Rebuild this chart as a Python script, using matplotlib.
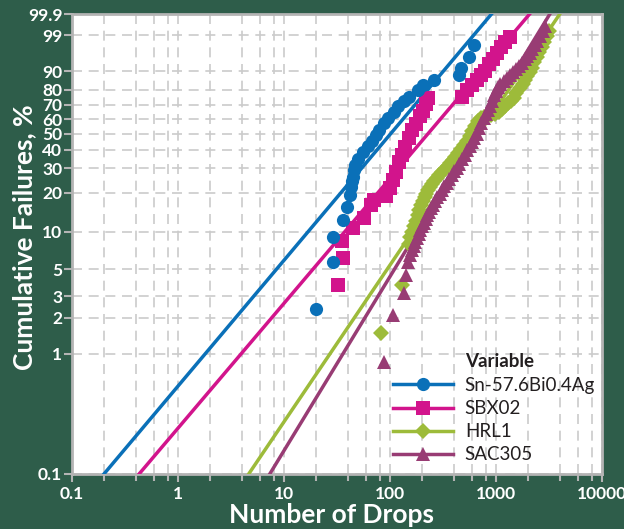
import matplotlib.pyplot as plt
import numpy as np
from matplotlib.lines import Line2D
from matplotlib.ticker import LogLocator, NullFormatter, NullLocator, FixedLocator

plt.rcParams['font.family'] = ['Lato', 'DejaVu Sans']

# --- data: (drops, cumulative failure %) ---
sn_x = [20, 29, 29, 36, 39, 42, 43, 44, 45, 46, 47, 50, 56, 62, 68, 73, 79, 88,
        96, 108, 118, 135, 152, 185, 206, 262, 452, 472, 562, 627]
sn_y = [2.35, 5.7, 9.0, 12.3, 15.5, 19.1, 22.0, 24.5, 26.0, 29.1, 31.5, 34.5,
        38.5, 42.0, 45.5, 49.0, 52.4, 57.2, 60.7, 65.0, 69.0, 72.5, 75.4, 80.0,
        82.9, 85.7, 88.2, 91.3, 95.1, 97.8]

sbx_x = [32, 36, 35, 45, 57, 66, 71, 92, 100, 107, 114, 122, 130, 139, 152, 162,
         177, 193, 206, 220, 230, 483, 538, 600, 655, 715, 780, 851, 929, 1014,
         1107, 1206, 1345]
sbx_y = [3.7, 6.1, 8.4, 10.7, 12.8, 16.1, 17.6, 18.8, 21.6, 24.7, 28.2, 33.1,
         36.8, 41.5, 47.1, 52.4, 56.5, 62.1, 65.7, 70.6, 74.7, 75.4, 79.9, 82.9,
         85.7, 88.2, 90.1, 92.9, 94.5, 96.2, 97.4, 98.2, 98.8]

hrl_x = [83, 130, 150, 156, 162, 168, 175, 182, 189, 196, 204, 212, 221, 230,
         240, 250, 262, 276, 292, 310, 330, 350, 370, 392, 415, 440, 470, 500,
         530, 565, 600, 640, 680, 720, 770, 830, 900, 980, 1060, 1140, 1220,
         1300, 1380, 1468, 1560, 1672, 1780, 1880, 1980, 2080, 2173, 2300, 2421,
         2550, 2700, 2823, 3000, 3148]
hrl_y = [1.5, 3.7, 8.0, 9.0, 10.0, 11.0, 12.2, 13.5, 14.8, 16.0, 17.2, 18.4,
         19.6, 20.8, 22.0, 23.2, 24.5, 25.8, 27.0, 28.3, 29.6, 31.0, 32.5, 34.0,
         35.8, 38.0, 40.5, 43.0, 45.5, 48.5, 52.0, 55.5, 58.5, 60.5, 61.5, 62.3,
         63.0, 63.8, 65.0, 67.0, 69.0, 71.0, 73.0, 75.0, 78.0, 81.0, 83.5, 85.5,
         87.5, 89.5, 91.5, 93.5, 95.2, 96.5, 97.5, 98.2, 98.9, 99.3]

sac_x = [88, 107, 135, 142, 149, 155, 161, 167, 173, 180, 187, 194, 201, 209,
         217, 225, 234, 244, 255, 267, 280, 294, 310, 326, 343, 362, 382, 404,
         428, 452, 478, 505, 535, 565, 595, 627, 660, 695, 730, 765, 800, 835,
         870, 910, 949, 990, 1040, 1100, 1180, 1260, 1350, 1440, 1540, 1640,
         1750, 1860, 1970, 2080, 2200, 2320, 2450, 2600, 2760, 2900]
sac_y = [0.85, 2.1, 3.2, 4.5, 5.7, 6.5, 7.1, 7.7, 8.3, 8.9, 9.6, 10.3, 11.0,
         11.8, 12.6, 13.4, 14.3, 15.2, 16.2, 17.3, 18.5, 19.7, 21.0, 22.3, 23.7,
         25.2, 26.8, 28.5, 30.3, 32.2, 34.5, 37.0, 39.5, 42.0, 44.5, 47.0, 50.0,
         53.5, 57.0, 60.5, 63.5, 66.5, 69.5, 73.0, 76.5, 79.5, 82.0, 83.5, 85.0,
         86.5, 88.0, 89.5, 91.0, 92.2, 93.3, 94.4, 95.4, 96.3, 97.1, 97.8, 98.4,
         98.9, 99.3, 99.6]

labels = ['Sn-57.6Bi0.4Ag', 'SBX02', 'HRL1', 'SAC305']
shapes = [1.05, 1.042, 1.308, 1.453]      # Weibull fit lines
scales = [144, 325, 913, 852]
colors = ['#0a70b8', '#d2148c', '#9dbb3a', '#983c74']
markers = ['o', 's', 'D', '^']
msizes = [9.5, 9.5, 8.5, 10.5]

y_ticks = [0.1, 1, 2, 3, 5, 10, 20, 30, 40, 50, 60, 70, 80, 90, 99, 99.9]
y_ticklabels = ['0.1', '1', '2', '3', '5', '10', '20', '30', '40', '50', '60',
                '70', '80', '90', '99', '99.9']
x_ticks = [0.1, 1, 10, 100, 1000, 10000]
x_ticklabels = ['0.1', '1', '10', '100', '1000', '10000']


# weibull probability scale for y (values in %)
def fwd(p):
    p = np.clip(np.asarray(p, dtype=float), 1e-5, 99.99999)
    return np.log(-np.log(1 - p / 100.0))


def inv(w):
    return 100.0 * (1 - np.exp(-np.exp(w)))


bg = '#2e5d4a'
fig = plt.figure(figsize=(6.24, 5.29), dpi=100, facecolor=bg)
ax = fig.add_axes([0.1154, 0.104, 0.8493, 0.8695])
ax.set_xscale('log')
ax.set_yscale('function', functions=(fwd, inv))
ax.set_xlim(0.1, 10000)
ax.set_ylim(0.1, 99.9)

ax.xaxis.set_major_locator(FixedLocator(x_ticks))
ax.set_xticklabels(x_ticklabels)
ax.xaxis.set_minor_locator(LogLocator(base=10, subs=(2, 4, 6, 8), numticks=20))
ax.xaxis.set_minor_formatter(NullFormatter())
ax.yaxis.set_major_locator(FixedLocator(y_ticks))
ax.set_yticklabels(y_ticklabels)
ax.yaxis.set_minor_locator(NullLocator())

ax.grid(True, which='both', color='#cbcbcb', linestyle=(0, (6, 4)), linewidth=1.2)
ax.set_axisbelow(True)

for s in ax.spines.values():
    s.set_color('#b4b4b4')
    s.set_linewidth(2)

ax.tick_params(which='both', colors='#b4b4b4', width=1.5, direction='out')
ax.tick_params(which='major', length=6, labelcolor='white', labelsize=12.5)
ax.tick_params(which='minor', length=5)
ax.tick_params(axis='y', pad=1)
ax.tick_params(axis='x', pad=3)
for t in ax.get_xticklabels() + ax.get_yticklabels():
    t.set_fontweight('bold')

xs = np.logspace(-1, 4, 500)
series = [(sn_x, sn_y), (sbx_x, sbx_y), (hrl_x, hrl_y), (sac_x, sac_y)]
for b, eta, c in zip(shapes, scales, colors):
    ax.plot(xs, 100 * (1 - np.exp(-(xs / eta) ** b)), color=c, lw=2.5, zorder=3)

# markers: green under purple, as in the original
for i in [2, 3, 1, 0]:
    sx, sy = series[i]
    ax.plot(sx, sy, linestyle='none', marker=markers[i], color=colors[i],
            markersize=msizes[i], markeredgewidth=0, zorder=4)

handles = [Line2D([0], [0], color=c, lw=2.5, marker=m, markersize=ms, markeredgewidth=0)
           for c, m, ms in zip(colors, markers, msizes)]
leg = ax.legend(handles, labels, loc='upper left', bbox_to_anchor=(0.606, 0.211),
                borderaxespad=0, borderpad=0, frameon=False, fontsize=13.5,
                handlelength=3.2, handletextpad=0.62, labelspacing=0.33)
for t in leg.get_texts():
    t.set_color('#231f20')
ax.text(0.7415, 0.2435, 'Variable', transform=ax.transAxes, ha='left',
        va='center', fontsize=13.5, fontweight='bold', color='#231f20')

ax.set_xlabel('Number of Drops', color='white', fontsize=19, fontweight='bold')
ax.set_ylabel('Cumulative Failures, %', color='white', fontsize=19,
              fontweight='bold')
ax.xaxis.set_label_coords(0.489, -0.089)
ax.yaxis.set_label_coords(-0.0906, 0.515)
ax.xaxis.label.set_verticalalignment('center')
ax.yaxis.label.set_verticalalignment('center')

fig.savefig('out.png', dpi=100, facecolor=bg)
